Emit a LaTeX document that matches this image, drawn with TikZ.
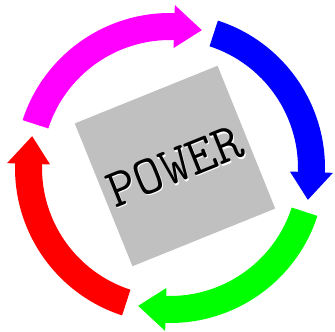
\documentclass[tikz,border=0pt]{standalone}
\begin{document}
\begin{tikzpicture}[x=1pt, y=1pt]
		\useasboundingbox (0, 0) rectangle (335, 332);
		\definecolor{boxgray}{RGB}{192,192,192}
		\definecolor{pinkarrow}{RGB}{255,0,255}
		% four arrows round the circle
		\begin{scope}[shift={(170, 164)}]
			\foreach \col/\t in {pinkarrow/162, blue/72, green/-18, red/-108}{
				\fill[\col] (\t:155pt) arc[start angle=\t, end angle=\t-73.7, radius=155pt]
					-- (\t-73.7:163pt) -- (\t-85:141.5pt) -- (\t-73.7:120pt)
					-- (\t-73.7:128pt) arc[start angle=\t-73.7, end angle=\t, radius=128pt] -- cycle;
			}
		\end{scope}
		\node[fill=boxgray, minimum size=154pt, inner sep=0pt, rotate=22] (box) at (175, 166) {};
		\node[white, rotate=22, font=\ttfamily\fontsize{55}{55}\selectfont] (shadow) at ([shift={(1, -1.5)}]box.center) {POWER};
		\node[black, rotate=22, font=\ttfamily\fontsize{55}{55}\selectfont] (label) at (box.center) {POWER};
	\end{tikzpicture}
\end{document}
